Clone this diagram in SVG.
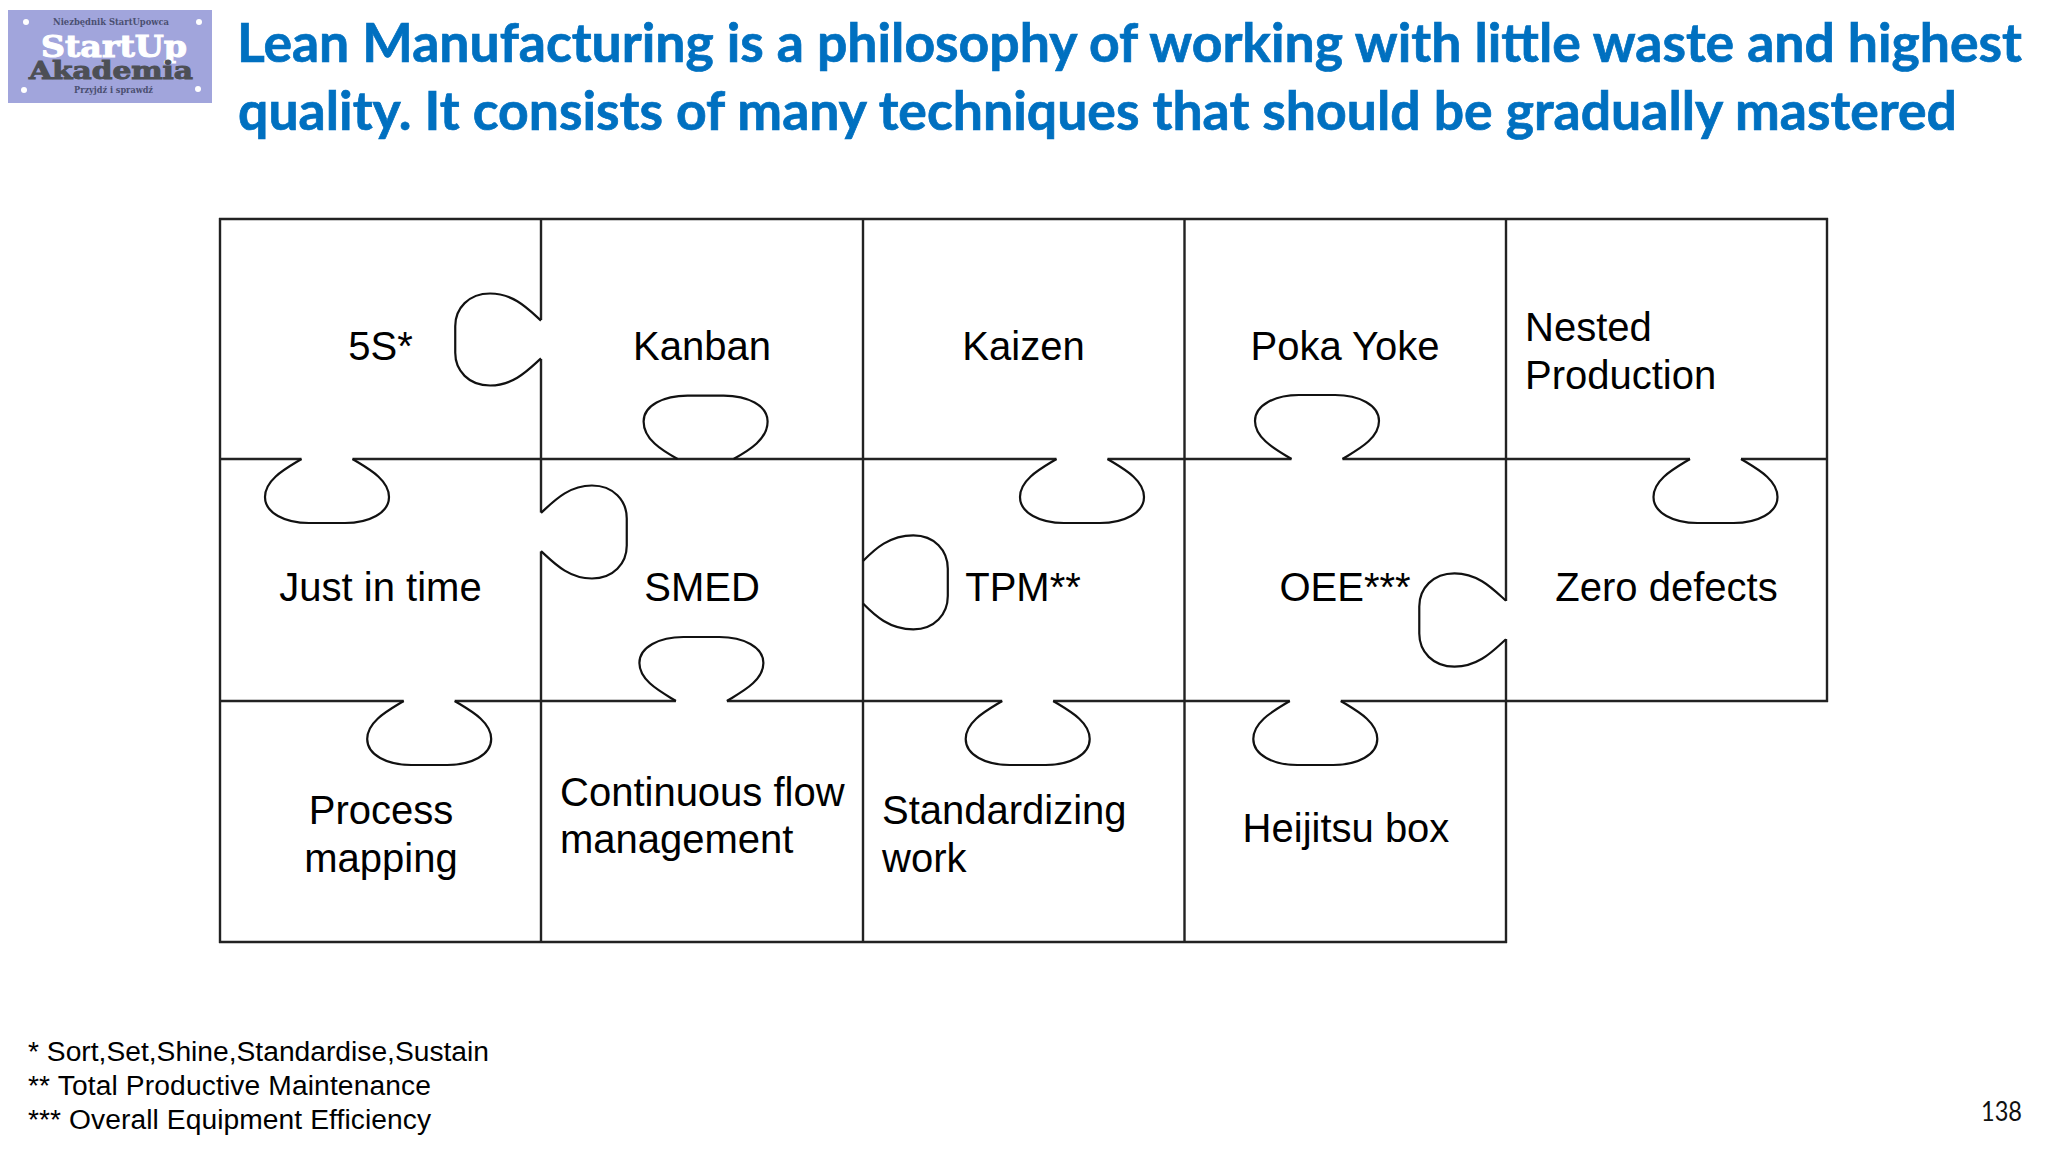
<svg xmlns="http://www.w3.org/2000/svg" width="2048" height="1152" viewBox="0 0 2048 1152">
<style>
.t{font-family:"Lato","Open Sans",sans-serif;font-weight:700;font-size:53px;fill:#0070c0;stroke:#0070c0;stroke-width:.7}
.n{font-family:"Liberation Sans",Arial,sans-serif;font-size:40px;fill:#000}
.m{text-anchor:middle}
.f{font-family:"Liberation Sans",Arial,sans-serif;font-size:28.2px;fill:#000}
.l{fill:none;stroke:#111;stroke-width:2.2;stroke-linejoin:round;vector-effect:non-scaling-stroke}
.g{fill:none;stroke:#222;stroke-width:2.4}
.lg{font-family:"DejaVu Serif",serif;font-weight:700}
.s{font-size:9px;fill:#4a4f70}
</style>
<defs>
<path id="tab" class="l" d="M-25.5,0C-40,9 -62,20 -62,38C-62,54 -42,64 -18,64H18C42,64 62,54 62,38C62,20 40,9 25.5,0"/>
<path id="tabw" class="l" d="M-28,0C-44,9 -62,20 -62,38C-62,54 -42,64 -18,64H18C42,64 62,54 62,38C62,20 44,9 28,0"/>
</defs>
<rect width="2048" height="1152" fill="#fff"/>
<g id="logo">
<rect x="8" y="10" width="204" height="93" fill="#a1a5dc"/>
<g fill="#fff"><circle cx="26" cy="22" r="3"/><circle cx="199" cy="22" r="3"/><circle cx="24" cy="90" r="3"/><circle cx="198" cy="89" r="3"/></g>
<text class="lg s" x="53" y="25" textLength="116" lengthAdjust="spacingAndGlyphs">Niezbędnik StartUpowca</text>
<text class="lg" x="41" y="57" font-size="29" fill="#fff" stroke="#fff" stroke-width="1" textLength="146" lengthAdjust="spacingAndGlyphs">StartUp</text>
<text class="lg" x="29" y="79" font-size="25" fill="#4d4f55" stroke="#4d4f55" stroke-width="1" textLength="164" lengthAdjust="spacingAndGlyphs">Akademia</text>
<text class="lg s" x="74" y="93" textLength="79" lengthAdjust="spacingAndGlyphs">Przyjdź i sprawdź</text>
</g>
<g id="title">
<text class="t" x="237" y="62" textLength="1785" lengthAdjust="spacingAndGlyphs">Lean Manufacturing is a philosophy of working with little waste and highest</text>
<text class="t" x="238" y="130" textLength="1719" lengthAdjust="spacingAndGlyphs">quality. It consists of many techniques that should be gradually mastered</text>
</g>
<g id="connectors">
<path class="g" d="M219,219H1828M220,459H301.5M352.5,459H1056.5M1107.5,459H1291.5M1342.5,459H1690M1741,459H1828M220,701H403.7M454.7,701H675.9M726.9,701H1002.2M1053.2,701H1289.8M1340.8,701H1828M219,942H1507"/>
<path class="g" d="M220,218V943M541,218V320M541,359V512.5M541,551.5V943M863,218V943M1184.500,218V943M1506,218V601M1506,639V943M1827,218V702"/>
<use href="#tab" transform="translate(327,459)"/>
<use href="#tab" transform="translate(1082,459)"/>
<use href="#tab" transform="translate(1715.500,459)"/>
<use href="#tab" transform="translate(429.200,701)"/>
<use href="#tab" transform="translate(1027.700,701)"/>
<use href="#tab" transform="translate(1315.300,701)"/>
<use href="#tab" transform="translate(1317,459) scale(1,-1)"/>
<use href="#tab" transform="translate(701.400,701) scale(1,-1)"/>
<use href="#tabw" transform="translate(705.600,459) scale(1,-.99)"/>
<use href="#tab" transform="translate(541,339.500) rotate(90) scale(.742,1.340)"/>
<use href="#tab" transform="translate(1506,620) rotate(90) scale(.753,1.355)"/>
<use href="#tab" transform="translate(541,532) rotate(-90) scale(.75,1.340)"/>
<use href="#tabw" transform="translate(863,582.300) rotate(-90) scale(.758,1.325)"/>
</g>
<g id="node-5s"><text class="n m" x="380.500" y="359.500">5S*</text></g>
<g id="node-kanban"><text class="n m" x="702" y="359.500">Kanban</text></g>
<g id="node-kaizen"><text class="n m" x="1023.500" y="359.500">Kaizen</text></g>
<g id="node-poka-yoke"><text class="n m" x="1345" y="359.500">Poka Yoke</text></g>
<g id="node-nested-production"><text class="n" x="1525" y="341">Nested</text><text class="n" x="1525" y="389">Production</text></g>
<g id="node-just-in-time"><text class="n m" x="380.500" y="601">Just in time</text></g>
<g id="node-smed"><text class="n m" x="702" y="601">SMED</text></g>
<g id="node-tpm"><text class="n m" x="1023" y="601">TPM**</text></g>
<g id="node-oee"><text class="n m" x="1345" y="601">OEE***</text></g>
<g id="node-zero-defects"><text class="n m" x="1666.500" y="601">Zero defects</text></g>
<g id="node-process-mapping"><text class="n m" x="381" y="824">Process</text><text class="n m" x="381" y="871.500">mapping</text></g>
<g id="node-continuous-flow"><text class="n" x="560" y="805.500">Continuous flow</text><text class="n" x="560" y="853">management</text></g>
<g id="node-standardizing"><text class="n" x="882" y="824">Standardizing</text><text class="n" x="882" y="871.500">work</text></g>
<g id="node-heijitsu"><text class="n m" x="1346" y="842">Heijitsu box</text></g>
<g id="notes">
<text class="f" x="28" y="1061" textLength="461">* Sort,Set,Shine,Standardise,Sustain</text>
<text class="f" x="28" y="1095" textLength="403">** Total Productive Maintenance</text>
<text class="f" x="28" y="1129" textLength="403">*** Overall Equipment Efficiency</text>
</g>
<text id="page" x="1981" y="1121" font-family="Lato,'Open Sans',sans-serif" font-size="26" fill="#111" textLength="41" lengthAdjust="spacingAndGlyphs">138</text>
</svg>
